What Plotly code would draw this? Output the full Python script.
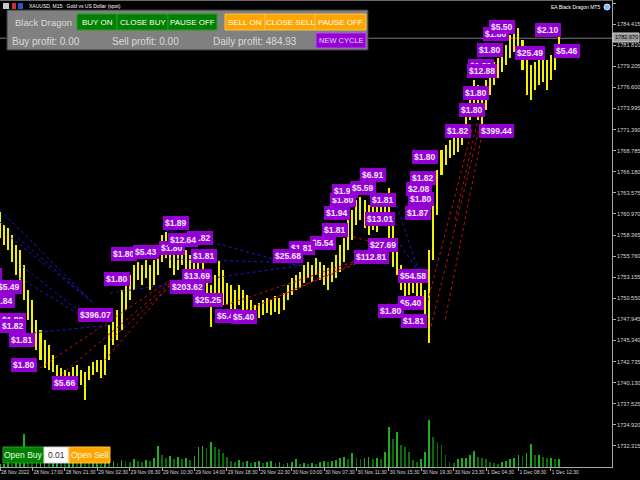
import plotly.graph_objects as go

# ---------------- data ----------------
bar_index = list(range(139))
high = [1761.21, 1759.60, 1759.23, 1758.37, 1757.13, 1756.52, 1754.66, 1751.58, 1750.34, 1747.87,
        1746.64, 1745.40, 1744.78, 1743.55, 1742.32, 1741.94, 1741.70, 1741.45, 1742.07, 1742.32,
        1741.70, 1741.45, 1742.19, 1742.68, 1742.93, 1742.93, 1744.78, 1747.25, 1747.62, 1749.11,
        1751.58, 1752.19, 1753.43, 1754.66, 1755.03, 1754.66, 1755.28, 1754.66, 1755.28, 1756.52,
        1758.37, 1758.74, 1757.13, 1756.52, 1756.76, 1757.13, 1756.52, 1755.90, 1756.52, 1755.53,
        1755.03, 1754.05, 1752.19, 1753.43, 1755.28, 1754.05, 1752.44, 1752.19, 1751.58, 1752.19,
        1751.58, 1750.96, 1750.34, 1749.72, 1749.97, 1750.34, 1750.59, 1750.34, 1750.84, 1750.59,
        1751.21, 1752.19, 1753.06, 1753.43, 1753.80, 1754.66, 1755.03, 1754.66, 1755.53, 1755.03,
        1754.66, 1754.29, 1755.03, 1755.90, 1757.13, 1758.00, 1760.22, 1761.46, 1762.69, 1763.06,
        1762.69, 1762.07, 1762.69, 1762.07, 1762.94, 1763.31, 1764.17, 1760.22, 1757.75, 1754.66,
        1753.43, 1752.81, 1753.06, 1752.57, 1752.44, 1751.58, 1756.52, 1763.31, 1766.40, 1768.87,
        1769.48, 1770.10, 1770.35, 1770.72, 1771.95, 1773.81, 1776.28, 1777.51, 1776.89, 1775.66,
        1777.51, 1778.99, 1779.73, 1780.23, 1780.60, 1781.83, 1783.07, 1783.69, 1783.93, 1782.45,
        1780.60, 1779.36, 1779.73, 1779.98, 1780.23, 1779.98, 1780.60, 1781.83, 1783.07]
low = [1758.00, 1757.13, 1756.52, 1755.03, 1753.43, 1752.19, 1750.34, 1747.87, 1746.02, 1744.17,
       1742.93, 1741.94, 1741.70, 1741.45, 1740.71, 1740.46, 1740.22, 1739.84, 1740.46, 1740.71,
       1739.84, 1737.99, 1740.46, 1741.08, 1741.45, 1740.71, 1741.08, 1742.93, 1744.78, 1745.40,
       1746.64, 1749.11, 1750.34, 1751.58, 1752.81, 1752.19, 1753.06, 1751.58, 1752.19, 1753.43,
       1755.03, 1755.53, 1754.29, 1753.43, 1754.05, 1754.66, 1752.81, 1752.81, 1752.19, 1751.58,
       1750.96, 1750.34, 1747.01, 1749.72, 1750.34, 1749.72, 1749.72, 1749.11, 1748.86, 1749.72,
       1748.74, 1748.12, 1747.87, 1747.62, 1748.12, 1748.49, 1748.74, 1748.49, 1748.86, 1748.61,
       1749.11, 1750.34, 1750.96, 1751.58, 1751.82, 1752.44, 1753.06, 1752.57, 1753.43, 1752.81,
       1752.19, 1751.58, 1752.57, 1753.06, 1753.80, 1755.03, 1756.52, 1757.75, 1759.60, 1760.22,
       1759.23, 1758.37, 1758.99, 1758.74, 1759.60, 1759.97, 1756.52, 1754.42, 1753.43, 1751.58,
       1750.71, 1750.96, 1751.21, 1750.59, 1750.34, 1747.87, 1745.03, 1755.28, 1760.84, 1765.78,
       1767.01, 1767.88, 1768.25, 1768.62, 1769.48, 1770.72, 1772.57, 1773.81, 1772.57, 1771.95,
       1773.81, 1775.66, 1776.89, 1777.76, 1778.50, 1779.36, 1780.23, 1780.97, 1781.22, 1778.75,
       1775.66, 1775.04, 1776.28, 1776.89, 1777.26, 1776.28, 1777.51, 1778.75, 1780.60]
volume = [3, 3, 4, 3, 5, 12, 33, 6, 5, 5, 6, 7, 5, 6, 8, 6, 5, 6, 7, 5,
          6, 5, 4, 5, 6, 5, 6, 5, 6, 4, 7, 6, 5, 8, 6, 5, 7, 6, 9, 21,
          12, 9, 11, 8, 10, 8, 9, 7, 11, 20, 21, 19, 25, 20, 18, 14, 10, 6, 5, 7,
          5, 6, 4, 5, 6, 4, 5, 6, 4, 5, 3, 4, 5, 8, 3, 4, 3, 4, 3, 5,
          6, 5, 6, 7, 9, 10, 8, 14, 9, 8, 9, 10, 8, 9, 8, 15, 40, 28, 35, 22,
          20, 15, 7, 5, 8, 15, 47, 30, 25, 22, 12, 5, 4, 8, 9, 9, 12, 16, 10, 9,
          8, 5, 4, 3, 5, 6, 8, 9, 12, 11, 14, 23, 12, 12, 10, 9, 9, 8, 8]

x_tick_index = [0, 8, 16, 24, 32, 40, 48, 56, 64, 72, 80, 88, 96, 104, 112, 120, 128, 136]
x_tick_labels = ["28 Nov 2022", "28 Nov 17:00", "28 Nov 21:30", "29 Nov 02:30", "29 Nov 06:30",
                 "29 Nov 10:30", "29 Nov 14:00", "29 Nov 18:30", "29 Nov 22:30", "30 Nov 03:00",
                 "30 Nov 07:30", "30 Nov 11:30", "30 Nov 15:30", "30 Nov 19:30", "30 Nov 23:30",
                 "1 Dec 04:30", "1 Dec 08:30", "1 Dec 12:30"]
y_tick_values = [1732.315, 1734.920, 1737.525, 1740.130, 1742.735, 1745.340, 1747.945, 1750.550,
                 1753.155, 1755.760, 1758.365, 1760.970, 1763.575, 1766.180, 1768.785, 1771.390,
                 1773.995, 1776.600, 1779.205, 1781.810, 1784.415, 1787.020]
current_price = 1782.670

# profit labels: text, bar index, price (drawn back to front)
label_text = ["$1.80", "$5.50", "$2.10", "$1.80", "$25.49", "$5.46", "$1.80", "$12.88", "$1.80", "$1.80",
              "$1.82", "$399.44", "$1.80", "$6.91", "$1.82", "$2.08", "$1.80", "$1.93", "$5.59", "$1.81",
              "$1.80", "$1.94", "$1.87", "$13.01", "$1.81", "$5.54", "$27.69", "$1.81", "$25.68", "$112.81",
              "$54.58", "$5.40", "$1.80", "$1.81", "$5.40", "$5.40", "$1.89", "$1.82", "$1.80", "$12.64",
              "$1.80", "$5.43", "$1.81", "$1.80", "$13.69", "$203.62", "$25.25", "$396.07", "$5.66", "$1.80",
              "$1.81", "$1.80", "$1.82", "$1.81", "$5.49", "$1.84"]
label_index = [122.5, 124.0, 135.3, 121.0, 130.9, 140.0, 118.8, 119.0, 117.5, 116.5,
               113.1, 122.5, 104.9, 92.1, 104.4, 103.5, 84.7, 85.2, 89.6, 94.6,
               104.0, 83.2, 103.2, 93.8, 82.7, 79.8, 94.6, 74.6, 71.1, 91.6,
               102.0, 101.5, 96.5, 102.2, 56.3, 60.2, 43.5, 49.4, 42.5, 45.2,
               30.6, 36.0, 50.4, 28.9, 48.6, 46.2, 51.4, 23.5, 16.0, 5.9,
               5.4, 3.2, 3.2, -0.9, 2.1, 0.4]
label_price = [1783.19, 1784.06, 1783.69, 1781.22, 1780.85, 1781.09, 1779.24, 1778.62, 1775.90, 1773.81,
               1771.21, 1771.21, 1768.00, 1765.78, 1765.41, 1764.05, 1762.69, 1763.80, 1764.17, 1762.69,
               1762.82, 1761.09, 1761.09, 1760.34, 1758.99, 1757.38, 1757.13, 1756.76, 1755.78, 1755.65,
               1753.30, 1749.97, 1748.98, 1747.75, 1748.37, 1748.24, 1759.85, 1758.00, 1756.76, 1757.75,
               1756.02, 1756.27, 1755.78, 1752.93, 1753.30, 1751.95, 1750.34, 1748.49, 1740.09, 1742.32,
               1745.40, 1747.87, 1747.13, 1753.43, 1751.95, 1750.22]

# trade connection lines: start index, start price, end index, end price
buy_x0 = [0.0, 0.0, 2.5, 4.2, 4.9, 8.1, 40.7, 34.6, 27.2, 97.5, 98.8]
buy_p0 = [1761.46, 1759.97, 1758.12, 1755.03, 1753.06, 1746.27, 1758.99, 1755.53, 1751.21, 1762.69, 1757.13]
buy_x1 = [22.7, 23.0, 22.2, 19.8, 19.8, 27.2, 74.1, 74.1, 74.8, 103.7, 103.2]
buy_p1 = [1750.09, 1749.97, 1750.34, 1748.86, 1748.49, 1747.25, 1754.54, 1754.91, 1754.66, 1753.43, 1754.05]
sell_x0 = [9.9, 14.1, 25.9, 27.2, 55.6, 59.3, 66.7, 87.2, 118.5, 117.8, 119.3, 116.5]
sell_p0 = [1741.94, 1740.71, 1742.93, 1745.40, 1749.72, 1748.74, 1750.34, 1758.12, 1771.95, 1772.20, 1771.58, 1771.34]
sell_x1 = [42.0, 42.0, 42.5, 42.5, 90.1, 90.9, 88.9, 97.0, 106.2, 112.3, 109.9, 105.7]
sell_p1 = [1752.81, 1752.44, 1752.57, 1752.32, 1755.53, 1755.65, 1755.03, 1756.89, 1746.64, 1760.22, 1747.87, 1750.34]

# ---------------- figure ----------------
W, H = 640, 480
PL, PR, PT, PB = 0, 28, 0, 13
PW, PH = W - PL - PR, H - PT - PB
X_RANGE = [0.0, 151.1]
Y_RANGE = [1729.72, 1787.39]
FONT = "Liberation Sans, Arial, sans-serif"


def px(x):
    return (x - PL) / PW


def py(y):
    return 1 - (y - PT) / PH


def paper_text(x, y, text, size, color, anchor="center", bold=False):
    return dict(x=px(x), y=py(y), xref="paper", yref="paper", text=text, showarrow=False,
                xanchor=anchor, yanchor="middle",
                font=dict(family=FONT, size=size, color=color, weight="bold" if bold else "normal"))


fig = go.Figure()

vol_colors = ["#1fae1f" if i == 0 or volume[i] >= volume[i - 1] else "#0b6a0b" for i in range(len(volume))]
fig.add_trace(go.Bar(x=bar_index, y=volume, yaxis="y2", marker=dict(color=vol_colors, line=dict(width=0)),
                     width=0.45, hoverinfo="skip"))

fig.add_trace(go.Bar(x=bar_index, y=[h - l for h, l in zip(high, low)], base=low,
                     marker=dict(color="#f2f200", line=dict(width=0)), width=0.5, hoverinfo="skip"))

for a, b, c, d in zip(buy_x0, buy_p0, buy_x1, buy_p1):
    fig.add_trace(go.Scatter(x=[a, c], y=[b, d], mode="lines",
                             line=dict(color="#1a1ad0", width=1, dash="dot"), hoverinfo="skip"))
for a, b, c, d in zip(sell_x0, sell_p0, sell_x1, sell_p1):
    fig.add_trace(go.Scatter(x=[a, c], y=[b, d], mode="lines",
                             line=dict(color="#c01010", width=1, dash="dot"), hoverinfo="skip"))

annotations = []
shapes = []

for t, xi, pr in zip(label_text, label_index, label_price):
    anchor = "center"
    if xi < 0:
        anchor = "right"
        xi = xi + 1.4
    annotations.append(dict(x=xi, y=pr, xref="x", yref="y", text=t, showarrow=False,
                            xanchor=anchor, yanchor="middle",
                            font=dict(family=FONT, size=8.5, color="#f4eaff", weight="bold"),
                            bgcolor="#9400d3", borderpad=2, borderwidth=0))

# top frame line
shapes.append(dict(type="line", xref="paper", yref="paper", x0=0, x1=1, y0=py(0.5), y1=py(0.5),
                   line=dict(color="#6a6a6a", width=1)))
# bid line
shapes.append(dict(type="line", xref="paper", yref="y", x0=0, x1=1, y0=current_price, y1=current_price,
                   line=dict(color="#7a7a7a", width=1), layer="below"))
# price box on axis
shapes.append(dict(type="rect", xref="paper", yref="paper", x0=px(613), x1=px(639), y0=py(33), y1=py(42),
                   fillcolor="#9a9a9a", line=dict(color="#d0d0d0", width=1)))
annotations.append(paper_text(626, 37.5, f"{current_price:.3f}", 5.6, "#000000"))

# ---- control panel ----
shapes.append(dict(type="rect", xref="paper", yref="paper", x0=px(7), x1=px(368), y0=py(10), y1=py(50),
                   fillcolor="#808080", line=dict(color="#3a3a3a", width=1)))
btns = [(77, 117, "#008000", "#22a022", "BUY ON"), (117, 168, "#008000", "#22a022", "CLOSE BUY"),
        (168, 217, "#008000", "#22a022", "PAUSE OFF"), (225, 265, "#ffa500", "#ffc24a", "SELL ON"),
        (265, 315, "#ffa500", "#ffc24a", "CLOSE SELL"), (315, 366, "#ffa500", "#ffc24a", "PAUSE OFF")]
for x0, x1, fc, lc, t in btns:
    shapes.append(dict(type="rect", xref="paper", yref="paper", x0=px(x0), x1=px(x1), y0=py(14), y1=py(30),
                       fillcolor=fc, line=dict(color=lc, width=1)))
    annotations.append(paper_text((x0 + x1) / 2, 22, t, 8, "#ffffff"))
shapes.append(dict(type="rect", xref="paper", yref="paper", x0=px(316), x1=px(366), y0=py(33), y1=py(48),
                   fillcolor="#9400d3", line=dict(color="#b050f0", width=1)))
annotations.append(paper_text(341, 40.5, "NEW CYCLE", 7.5, "#eadcff"))
annotations.append(paper_text(13, 22, "Black Dragon", 9.5, "#dadada", anchor="left"))
for xl, t in [(10, "Buy profit: 0.00"), (110, "Sell profit: 0.00"), (211, "Daily profit: 484.93")]:
    annotations.append(paper_text(xl, 41, t, 10, "#dadada", anchor="left"))

# ---- bottom-left trade buttons ----
for x0, x1, fc, lc, t, tc in [(3, 44, "#008000", "#22a022", "Open Buy", "#e8ffe8"),
                              (44, 69, "#ffffff", "#d0d0d0", "0.01", "#303030"),
                              (69, 110, "#ffa500", "#ffc24a", "Open Sell", "#fff6e0")]:
    shapes.append(dict(type="rect", xref="paper", yref="paper", x0=px(x0), x1=px(x1), y0=py(447), y1=py(463),
                       fillcolor=fc, line=dict(color=lc, width=1)))
    annotations.append(paper_text((x0 + x1) / 2, 455, t, 8.5, tc))

# ---- header ----
annotations.append(paper_text(27, 6, "XAUUSD, M15:  Gold vs US Dollar (spot)", 5, "#ffffff", anchor="left"))
for x0, x1, fc in [(3, 9, "#c8c8c8"), (12, 16, "#d03030"), (18, 23, "#3050d0")]:
    shapes.append(dict(type="rect", xref="paper", yref="paper", x0=px(x0), x1=px(x1), y0=py(3), y1=py(9),
                       fillcolor=fc, line=dict(width=0)))
annotations.append(paper_text(602, 7, "EA Black Dragon MT5", 5, "#ffffff", anchor="right"))
shapes.append(dict(type="circle", xref="paper", yref="paper", x0=px(604), x1=px(610), y0=py(4), y1=py(10),
                   fillcolor="#7fb8ff", line=dict(color="#d0e8ff", width=1)))

fig.update_layout(
    width=W, height=H, autosize=False, template="none",
    margin=dict(l=PL, r=PR, t=PT, b=PB, pad=0),
    paper_bgcolor="#000000", plot_bgcolor="#000000",
    showlegend=False, bargap=0, barmode="overlay",
    xaxis=dict(range=X_RANGE, showgrid=False, zeroline=False, showline=True, linecolor="#a8a8a8", linewidth=1,
               mirror=False, ticks="outside", ticklen=3, tickcolor="#a8a8a8", tickvals=x_tick_index,
               ticktext=x_tick_labels, ticklabelposition="outside right", tickangle=0,
               tickfont=dict(family=FONT, size=5, color="#d8d8d8"), automargin=False, fixedrange=True),
    yaxis=dict(range=Y_RANGE, side="right", showgrid=False, zeroline=False, showline=True, linecolor="#a8a8a8",
               linewidth=1, ticks="outside", ticklen=3, tickcolor="#a8a8a8", tickvals=y_tick_values,
               ticktext=[f"{v:.3f}" for v in y_tick_values],
               tickfont=dict(family=FONT, size=5.6, color="#d8d8d8"), automargin=False, fixedrange=True),
    yaxis2=dict(range=[0, 467], overlaying="y", visible=False, fixedrange=True),
    annotations=annotations, shapes=shapes,
)

fig.write_html("out.html", config={"displayModeBar": False, "staticPlot": True},
               post_script="document.body.style.margin='0';document.body.style.overflow='hidden';")
